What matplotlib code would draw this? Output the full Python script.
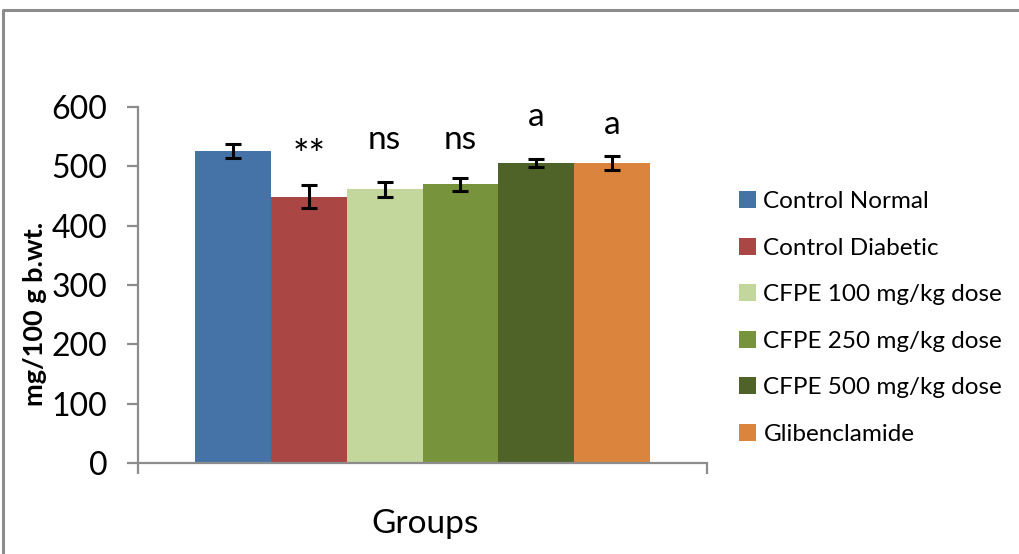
import numpy as np
import matplotlib.pyplot as plt
from matplotlib.lines import Line2D

plt.rcParams['font.family'] = ['Lato', 'DejaVu Sans']

groups = ["Control Normal", "Control Diabetic", "CFPE 100 mg/kg dose",
          "CFPE 250 mg/kg dose", "CFPE 500 mg/kg dose", "Glibenclamide"]
values = [526, 449, 461, 470, 506, 506]
errors = [12, 20, 12, 11, 7, 12]
marks = ["", "**", "ns", "ns", "a", "a"]
mark_y = [0, 497, 529, 529, 568, 554]
colors = ['#4572A7', '#AA4643', '#C3D69B', '#77933C', '#4F6228', '#DB843D']

fig = plt.figure(figsize=(10.19, 5.54), dpi=100)
ax = fig.add_axes([138 / 1019, 1 - 463 / 554, (707 - 138) / 1019, (463 - 107) / 554])

# one category, six bars side by side
w = 75.8 / 569
xs = (np.arange(len(values)) - 2.5) * w
for x, v, e, c, lab in zip(xs, values, errors, colors, groups):
    ax.bar(x, v, width=w, color=c, label=lab, zorder=2)
    ax.errorbar(x, v, yerr=e, fmt='none', ecolor='black', elinewidth=2.2,
                capsize=5.5, capthick=2.2, zorder=3)

for x, m, my in zip(xs, marks, mark_y):
    if m == "**":
        ax.text(x, my, m, ha='center', va='baseline', fontsize=28)
    elif m:
        ax.text(x, my, m, ha='center', va='baseline', fontsize=24)

ax.set_xlim(-0.5, 0.5)
ax.set_ylim(0, 600)
ax.set_yticks(range(0, 601, 100))
ax.set_xticks([-0.5, 0.5])
ax.set_xticklabels([])

for s in ['top', 'right']:
    ax.spines[s].set_visible(False)
for s in ['left', 'bottom']:
    ax.spines[s].set_color('#8c8c8c')
    ax.spines[s].set_linewidth(1.6)
ax.tick_params(axis='both', direction='out', length=8, width=1.6, color='#8c8c8c')
ax.tick_params(axis='y', labelsize=23, pad=14)

ax.set_ylabel("mg/100 g b.wt.", fontsize=19.5, fontweight='bold')
ax.yaxis.set_label_coords(-0.16, 0.42)
fig.text(425 / 1019, 1 - 524 / 554, "Groups", ha='center', va='center', fontsize=24)

fig.legend(loc='center left', bbox_to_anchor=(727 / 1019, 1 - 318 / 554),
           frameon=False, fontsize=17.5, handlelength=0.7, handleheight=0.7,
           handletextpad=0.3, labelspacing=1.05, borderpad=0)

# outer chart frame (cut off at right and bottom)
fx = 3 / 1019
fy = 1 - 10 / 554
fig.add_artist(Line2D([fx, fx, 1.0], [0.0, fy, fy], color='#8c8c8c', linewidth=2.2,
                      transform=fig.transFigure))

fig.savefig("out.png", dpi=100)
plt.close(fig)
